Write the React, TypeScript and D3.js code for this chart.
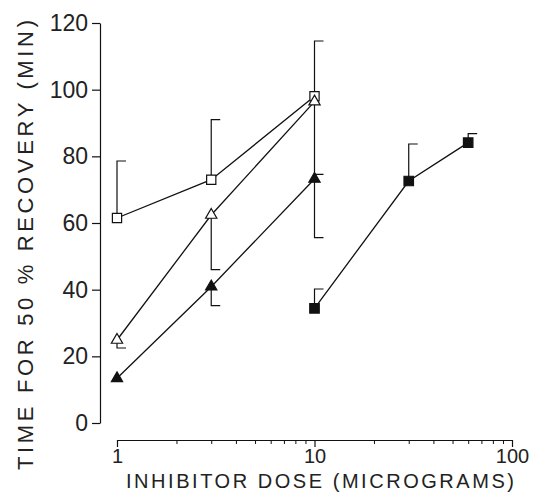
import React, { useEffect, useRef } from 'react';
import * as d3 from 'd3';

// dose (micrograms) for each series
const openSquareDose = [1, 3, 10];
const openSquareTime = [61.5, 73, 98];
const openSquareErr = [78.6, 91, 114.6];

const openTriDose = [1, 3, 10];
const openTriTime = [24.9, 62.4, 96.4];
const openTriErr = [22.5, 46, 55.6];

const filledTriDose = [1, 3, 10];
const filledTriTime = [13.4, 40.9, 73.2];
const filledTriErr = [null, 35.2, 74.6];

const filledSquareDose = [10, 30, 60];
const filledSquareTime = [34.4, 72.6, 84.1];
const filledSquareErr = [40.2, 83.7, 86.8];

const yTicks = [0, 20, 40, 60, 80, 100, 120];
const xMajorTicks = [1, 10, 100];

const FONT = '"Liberation Sans", Arial, sans-serif';

const App = () => {
    const svgRef = useRef<SVGSVGElement | null>(null);

    useEffect(() => {
        const svg = d3.select(svgRef.current);
        svg.selectAll('*').remove();

        const x = d3.scaleLog().domain([1, 100]).range([117, 512]);
        const y = d3.scaleLinear().domain([0, 120]).range([423, 23]);

        const series = [
            { dose: openSquareDose, time: openSquareTime, err: openSquareErr, symbol: d3.symbolSquare, size: 85, filled: false },
            { dose: openTriDose, time: openTriTime, err: openTriErr, symbol: d3.symbolTriangle, size: 55, filled: false },
            { dose: filledTriDose, time: filledTriTime, err: filledTriErr, symbol: d3.symbolTriangle, size: 55, filled: true },
            { dose: filledSquareDose, time: filledSquareTime, err: filledSquareErr, symbol: d3.symbolSquare, size: 90, filled: true },
        ];

        // y axis
        const yAxis = svg.append('g')
            .attr('transform', `translate(${x(1) - 17},0)`)
            .call(d3.axisLeft(y).tickValues(yTicks).tickSize(8).tickPadding(4).tickSizeOuter(0));
        yAxis.select('.domain').attr('stroke', '#111').attr('stroke-width', 1.2);
        yAxis.selectAll('.tick line').attr('stroke', '#111').attr('stroke-width', 1.2);
        yAxis.selectAll('.tick text')
            .style('font-family', FONT)
            .style('font-size', '23px')
            .attr('fill', '#222');

        // x axis
        const xAxisY = 440;
        const minor: number[] = [];
        [1, 10].forEach(dec => { for (let k = 2; k <= 9; k++) minor.push(dec * k); });

        const xAxis = svg.append('g')
            .attr('transform', `translate(0,${xAxisY})`)
            .call(d3.axisBottom(x).tickValues(xMajorTicks).tickSize(7).tickPadding(2)
                .tickFormat(d3.format('d')).tickSizeOuter(0));
        xAxis.select('.domain').attr('stroke', '#111').attr('stroke-width', 1.2);
        xAxis.selectAll('.tick line').attr('stroke', '#111').attr('stroke-width', 1.2);
        xAxis.selectAll('.tick text')
            .style('font-family', FONT)
            .style('font-size', '20px')
            .attr('fill', '#222');

        svg.append('g')
            .attr('transform', `translate(0,${xAxisY})`)
            .call(d3.axisBottom(x).tickValues(minor).tickSize(4).tickFormat(() => ''))
            .call(g => g.select('.domain').remove())
            .selectAll('.tick line').attr('stroke', '#111').attr('stroke-width', 1);

        // axis titles
        svg.append('text')
            .attr('x', 126).attr('y', 488)
            .attr('textLength', 388).attr('lengthAdjust', 'spacing')
            .style('font-family', FONT).style('font-size', '20px').attr('fill', '#222')
            .text('INHIBITOR DOSE (MICROGRAMS)');

        svg.append('text')
            .attr('transform', 'translate(33,470) rotate(-90)')
            .attr('textLength', 450).attr('lengthAdjust', 'spacing')
            .style('font-family', FONT).style('font-size', '22px').attr('fill', '#222')
            .text('TIME FOR 50 % RECOVERY (MIN)');

        const plot = svg.append('g');

        // connecting lines
        series.forEach(s => {
            const pts = s.dose.map((d, i) => [d, s.time[i]] as [number, number]);
            plot.append('path')
                .datum(pts)
                .attr('fill', 'none')
                .attr('stroke', '#111')
                .attr('stroke-width', 1.3)
                .attr('d', d3.line().x(d => x(d[0])).y(d => y(d[1])));
        });

        // one-sided error bars with cap to the right
        series.forEach(s => {
            s.dose.forEach((d, i) => {
                const e = s.err[i];
                if (e == null) return;
                const cx = x(d);
                plot.append('path')
                    .attr('fill', 'none')
                    .attr('stroke', '#111')
                    .attr('stroke-width', 1.2)
                    .attr('d', `M${cx},${y(s.time[i])}V${y(e)}h9`);
            });
        });

        // markers
        series.forEach(s => {
            const sym = d3.symbol().type(s.symbol).size(s.size);
            plot.selectAll(null)
                .data(s.dose.map((d, i) => [d, s.time[i]]))
                .join('path')
                .attr('transform', d => `translate(${x(d[0])},${y(d[1])})`)
                .attr('d', sym)
                .attr('fill', s.filled ? '#111' : '#fff')
                .attr('stroke', '#111')
                .attr('stroke-width', 1.2);
        });
    }, []);

    return (
        <svg ref={svgRef} width={538} height={493}
            style={{ position: 'absolute', left: 0, top: 0, background: '#fff' }} />
    );
};

export default App;
